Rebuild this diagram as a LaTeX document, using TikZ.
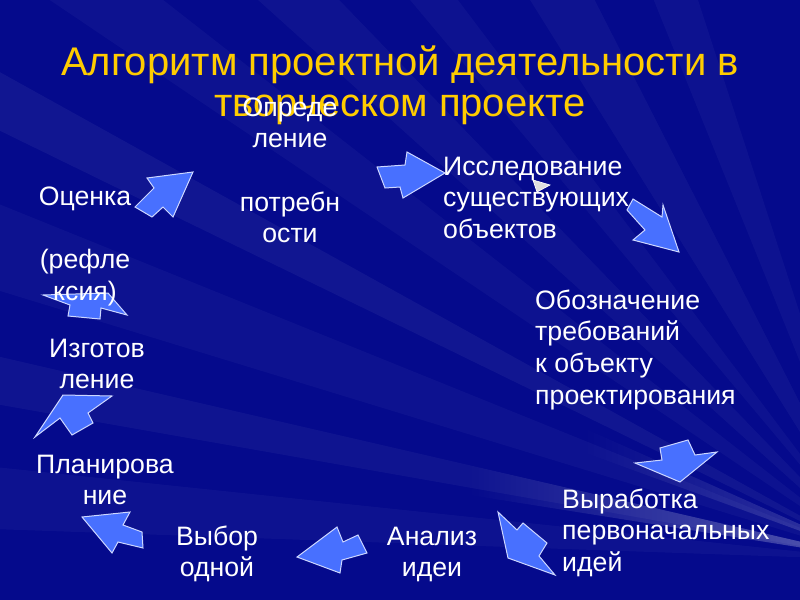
\documentclass[tikz,border=0pt]{standalone}
\usepackage{fontspec}
\setmainfont{Liberation Sans}
\usetikzlibrary{fadings}
\definecolor{bgblue}{RGB}{5,10,140}
\definecolor{arrowfill}{RGB}{72,112,255}
\definecolor{arrowline}{RGB}{205,215,255}
\definecolor{titlecol}{RGB}{255,204,0}
\tikzfading[name=fadeleft, left color=transparent!100, right color=transparent!0]
\begin{document}
\begin{tikzpicture}[x=0.9pt,y=-0.9pt,
  blockarrow/.style={fill=arrowfill, draw=arrowline, line width=0.9pt, line join=miter},
  body/.style={text=white, inner sep=0pt, font=\fontsize{24}{28.5}\selectfont},
  titletext/.style={text=titlecol, inner sep=0pt, align=center, font=\fontsize{36}{37}\selectfont},
]
% background
\fill[bgblue] (0,0) rectangle (800,600);
\useasboundingbox (0,0) rectangle (800,600);
\begin{scope}
\clip (0,0) rectangle (800,600);
\coordinate (F) at (880,560);
\foreach \a/\b/\o in {182/186/0.035, 190/193/0.045, 197/202/0.035, 206/209/0.05, 214/218/0.035, 222/226/0.04, 230/233/0.035, 238/243/0.04, 248/252/0.035}
  \fill[white, fill opacity=\o] (F) -- +(\a:1300) -- +(\b:1300) -- cycle;
\fill[white, fill opacity=0.3, path fading=fadeleft] (F) -- +(189:420) -- +(193:420) -- cycle;
\fill[white, fill opacity=0.2, path fading=fadeleft] (F) -- +(200:320) -- +(204:320) -- cycle;
\end{scope}

% block arrows
\draw[blockarrow] (135,207) -- (152,217) -- (163,207) -- (173,217) -- (193,172) -- (147,178) -- (154,188) -- cycle;
\draw[blockarrow] (445,173) -- (407,152) -- (405,165) -- (377,167) -- (385,188) -- (400,187) -- (403,198) -- cycle;
\draw[blockarrow] (633,199) -- (662,217) -- (663,205) -- (679,252) -- (633,240) -- (645,230) -- (627,210) -- cycle;
\draw[blockarrow] (660,448) -- (688,440) -- (695,455) -- (717,452) -- (680,482) -- (635,463) -- (662,460) -- cycle;
\draw[blockarrow] (498,512) -- (517,530) -- (523,523) -- (547,543) -- (539,556) -- (555,575) -- (508,558) -- cycle;
\draw[blockarrow] (297,557) -- (337,527) -- (343,542) -- (358,535) -- (367,553) -- (342,560) -- (340,573) -- cycle;
\draw[blockarrow] (82,517) -- (130,512) -- (123,525) -- (142,532) -- (143,548) -- (118,542) -- (112,553) -- cycle;
\draw[blockarrow] (63,395) -- (112,396) -- (88,413) -- (93,423) -- (72,435) -- (60,418) -- (35,437) -- cycle;
\draw[blockarrow] (43,295) -- (108,293) -- (127,315) -- (101,308) -- (100,319) -- (68,316) -- (70,305) -- cycle;
% small triangle
\draw[fill=gray!25, draw=white, line width=0.6pt] (533,180) -- (550,185) -- (537,192) -- cycle;

% title
\node[titletext, anchor=north] (title) at (400,45.2) {\strut Алгоритм проектной деятельности в\\\strut творческом проекте};

% texts
\node[body, anchor=north, align=center] (opr) at (290,93.8) {\strut Опреде\\\strut ление\\\strut\\\strut потребн\\\strut ости};
\node[body, anchor=north west, align=left] (isl) at (443,152.8) {\strut Исследование\\\strut существующих\\\strut объектов};
\node[body, anchor=north west, align=left] (obo) at (535,286.8) {\strut Обозначение\\\strut требований\\\strut к объекту\\\strut проектирования};
\node[body, anchor=north west, align=left] (vyr) at (562,485.8) {\strut Выработка\\\strut первоначальных\\\strut идей};
\node[body, anchor=north, align=center] (ana) at (432,522.8) {\strut Анализ\\\strut идеи};
\node[body, anchor=north, align=center] (vyb) at (217,522.8) {\strut Выбор\\\strut одной};
\node[body, anchor=north, align=center] (pla) at (105,450.8) {\strut Планирова\\\strut ние};
\node[body, anchor=north, align=center] (izg) at (97,334.8) {\strut Изготов\\\strut ление};
\node[body, anchor=north, align=center] (oce) at (85,182.8) {\strut Оценка\\\strut\\\strut (рефле\\\strut ксия)};
\end{tikzpicture}
\end{document}
